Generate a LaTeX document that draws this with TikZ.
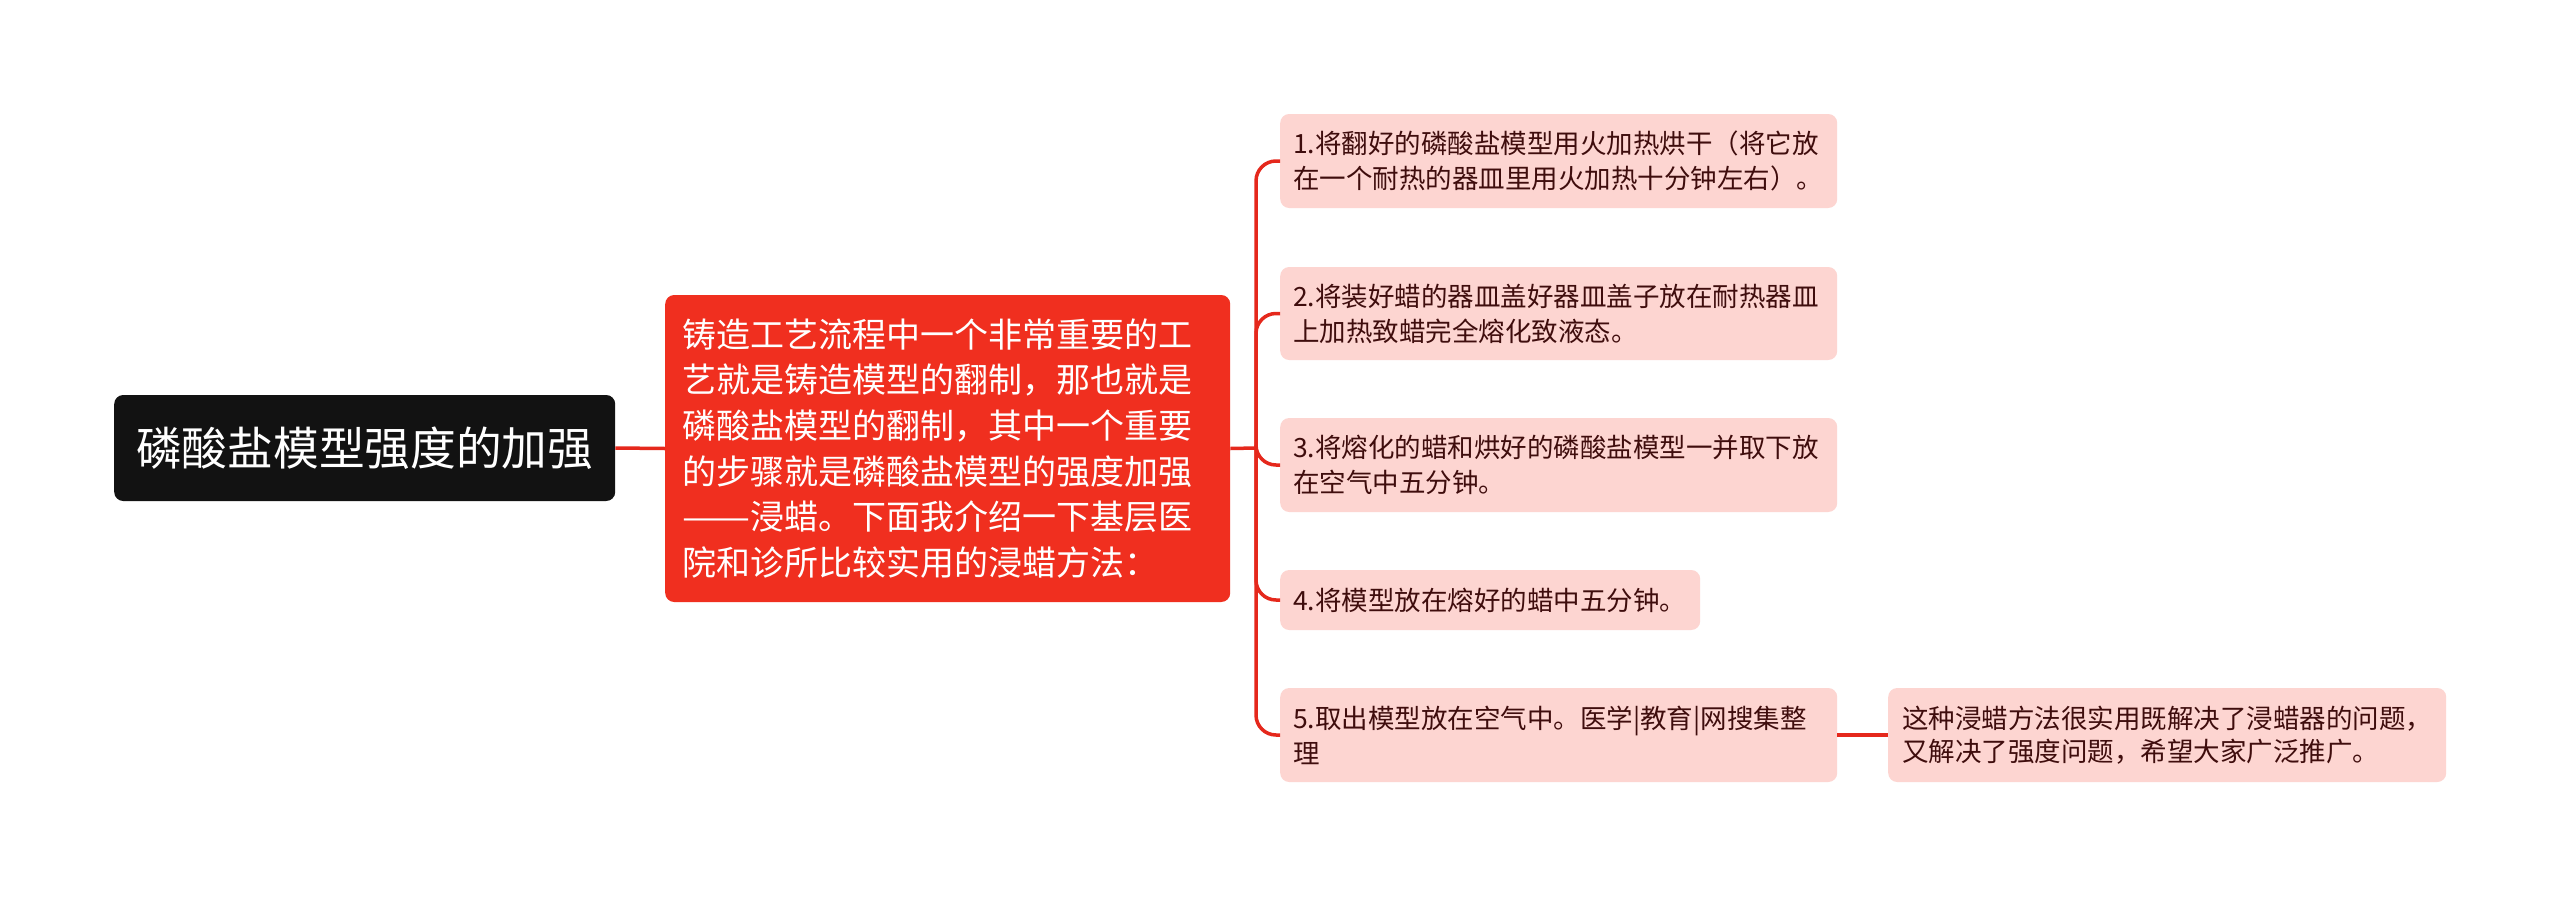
\documentclass[tikz,border=0pt]{standalone}
\usepackage{graphicx}
\usepackage{fontspec}
\setmainfont{Noto Sans CJK SC}
\definecolor{rootbg}{HTML}{121212}
\definecolor{mainbg}{HTML}{F02F1F}
\definecolor{leafbg}{HTML}{FDD5D1}
\definecolor{leaftext}{HTML}{3F0D0D}
\definecolor{linkred}{HTML}{E5281C}
\tikzset{
  rootbox/.style={fill=rootbg, text=white, rounded corners=9pt, anchor=west, inner xsep=0pt, inner ysep=0pt, align=center, font=\fontsize{45.7}{52}\selectfont},
  mainbox/.style={fill=mainbg, text=white, rounded corners=9pt, anchor=west, inner xsep=17pt, inner ysep=0pt, align=left, font=\fontsize{34}{45.7}\selectfont},
  leafbox/.style={fill=leafbg, text=leaftext, rounded corners=9pt, anchor=west, inner xsep=13pt, inner ysep=0pt, align=left, font=\fontsize{26.5}{35}\selectfont},
  link/.style={draw=linkred, line width=3.5pt},
}
\begin{document}
\begin{tikzpicture}[x=1pt,y=-1pt]
\useasboundingbox[fill=white] (0,0) rectangle (2560,897);
\node[rootbox, minimum width=501pt, minimum height=106pt] (root) at (114,448) {磷酸盐模型强度的加强};
\node[mainbox, text width=531pt, minimum height=307pt] (main) at (665,448.5) {铸造工艺流程中一个非常重要的工\\艺就是铸造模型的翻制，那也就是\\磷酸盐模型的翻制，其中一个重要\\的步骤就是磷酸盐模型的强度加强\\\resizebox{2em}{\height}{——}浸蜡。下面我介绍一下基层医\\院和诊所比较实用的浸蜡方法：};
\node[leafbox, text width=531pt, minimum height=94pt] (c1) at (1280,161) {1.将翻好的磷酸盐模型用火加热烘干（将它放\\在一个耐热的器皿里用火加热十分钟左右）。};
\node[leafbox, text width=531pt, minimum height=93pt] (c2) at (1280,313.5) {2.将装好蜡的器皿盖好器皿盖子放在耐热器皿\\上加热致蜡完全熔化致液态。};
\node[leafbox, text width=531pt, minimum height=94pt] (c3) at (1280,465) {3.将熔化的蜡和烘好的磷酸盐模型一并取下放\\在空气中五分钟。};
\node[leafbox, text width=394pt, minimum height=60pt] (c4) at (1280,600) {4.将模型放在熔好的蜡中五分钟。};
\node[leafbox, text width=531pt, minimum height=94pt] (c5) at (1280,735) {5.取出模型放在空气中。医学|教育|网搜集整\\理};
\node[leafbox, inner xsep=14pt, text width=530pt, minimum height=94pt, font=\fontsize{26.5}{33.5}\selectfont] (g1) at (1888,735) {这种浸蜡方法很实用既解决了浸蜡器的问题，\\又解决了强度问题，希望大家广泛推广。};
\coordinate (tr) at (1256,448);
\draw[link] (root.east) -- (main.west);
\draw[link] (main.east) -- (tr);
\foreach \c in {c1,c2,c3,c4,c5} {
  \draw[link, rounded corners=20pt] (tr) |- (\c.west);
}
\draw[link] (c5.east) -- (g1.west);
\end{tikzpicture}
\end{document}
